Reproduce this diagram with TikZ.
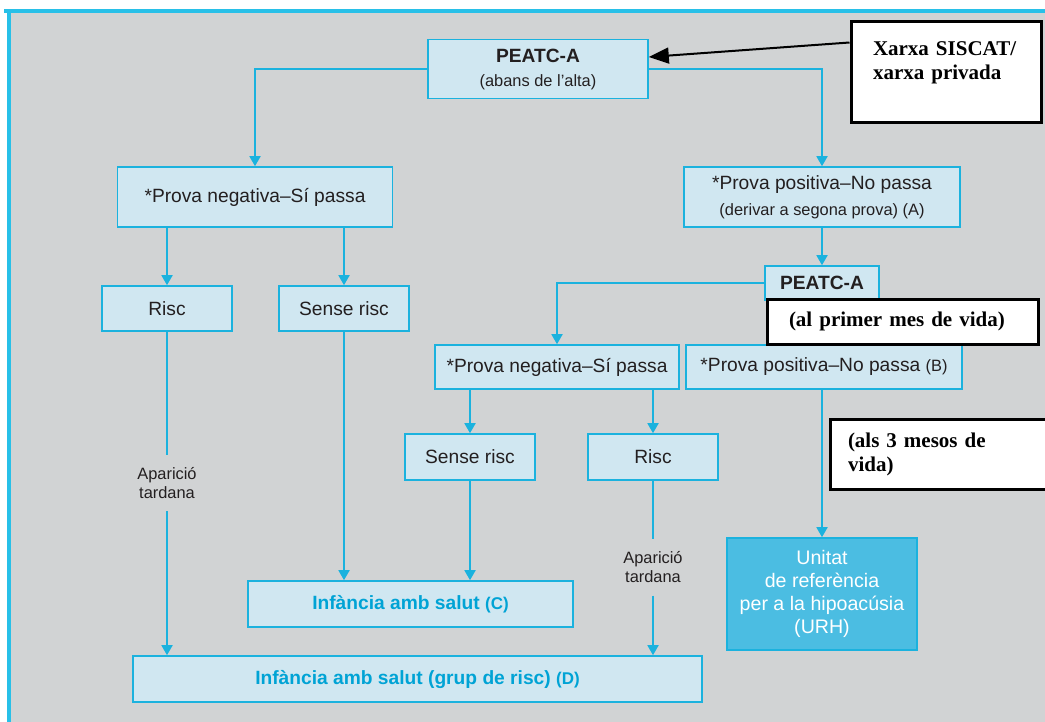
\documentclass[tikz,border=0pt]{standalone}
\usepackage{fontspec}
\setmainfont{Liberation Serif}
\setsansfont{Liberation Sans}
\usetikzlibrary{arrows.meta, positioning}
\definecolor{bggray}{RGB}{209,211,212}
\definecolor{framecyan}{RGB}{40,192,232}
\definecolor{lineblue}{RGB}{27,178,222}
\definecolor{boxfill}{RGB}{208,231,241}
\definecolor{urhfill}{RGB}{75,189,226}
\definecolor{txtgray}{RGB}{35,31,32}
\definecolor{kidblue}{RGB}{0,163,213}
\newcommand\bxfont{\sffamily\fontsize{9.6pt}{11pt}\selectfont}
\newcommand\smfont{\sffamily\fontsize{8.2pt}{9.5pt}\selectfont}
\newcommand\notefont{\rmfamily\bfseries\fontsize{10.5pt}{12pt}\selectfont}
\tikzset {
    >={Triangle[length=5pt, width=5.5pt]},
    flowbox/.style={draw=lineblue, line width=0.8pt, fill=boxfill, text=txtgray, font=\bxfont, align=center, inner sep=0pt},
    kidbox/.style={flowbox, text=kidblue, font=\bxfont\bfseries},
    urhbox/.style={flowbox, fill=urhfill, text=white, font=\sffamily\fontsize{9.8pt}{11.5pt}\selectfont},
    notebox/.style={draw=black, line width=1.5pt, fill=white, font=\notefont, align=left, inner ysep=0pt},
    flowline/.style={->, draw=lineblue, line width=0.9pt},
    latetext/.style={font=\smfont, text=txtgray, align=center, inner xsep=0pt, inner ysep=6pt}
}

\begin{document}
\begin{tikzpicture}[x=0.5pt, y=-0.5pt]
    \useasboundingbox (0,0) rectangle (1045,722);
    \fill[white] (0,0) rectangle (1045,722);
    \fill[bggray] (11,13) rectangle (1045,722);
    \fill[framecyan] (4,9) rectangle (1045,13);
    \fill[framecyan] (7,9) rectangle (11,722);

    % first test
    \node[flowbox, minimum width=110pt, minimum height=29.5pt] (peatc) at (538,69)
        {\textbf{PEATC-A}\\[1pt]{\smfont (abans de l’alta)}};
    \node[flowbox, minimum width=137.5pt, minimum height=30pt] (neg1) at (255,197)
        {*Prova negativa–Sí passa};
    \node[flowbox, minimum width=138pt, minimum height=30pt] (pos1) at (822,197)
        {*Prova positiva–No passa\\[2pt]{\smfont (derivar a segona prova) (A)}};
    \node[flowbox, minimum width=65pt, minimum height=22.5pt] (riscA) at (167,308.5) {Risc};
    \node[flowbox, minimum width=65pt, minimum height=22.5pt] (senseA) at (344,308.5) {Sense risc};

    % second test
    \node[flowbox, minimum width=57pt, minimum height=17pt] (peatc2) at (822,283) {\textbf{PEATC-A}};
    \node[flowbox, minimum width=122pt, minimum height=22pt] (neg2) at (557,367)
        {*Prova negativa–Sí passa};
    \node[flowbox, minimum width=138pt, minimum height=22pt] (pos2) at (824,367)
        {*Prova positiva–No passa {\smfont (B)}};
    \node[flowbox, minimum width=65pt, minimum height=23pt] (sense2) at (470,457) {Sense risc};
    \node[flowbox, minimum width=65pt, minimum height=23pt] (risc2) at (653,457) {Risc};

    % results
    \node[kidbox, minimum width=162.5pt, minimum height=23pt] (cbox) at (410.5,604)
        {Infància amb salut {\fontsize{8.5pt}{10pt}\selectfont (C)}};
    \node[kidbox, minimum width=284.5pt, minimum height=23pt] (dbox) at (417.5,679)
        {Infància amb salut (grup de risc) {\fontsize{8.5pt}{10pt}\selectfont (D)}};
    \node[urhbox, minimum width=95pt, minimum height=56pt] (urh) at (822,594)
        {Unitat\\de referència\\per a la hipoacúsia\\(URH)};

    \node[latetext] (late1) at (167,483) {Aparició\\tardana};
    \node[latetext] (late2) at (653,567.5) {Aparició\\tardana};

    \draw[flowline] (peatc.west) -| (neg1.north);
    \draw[flowline] (peatc.east) -| (pos1.north);
    \draw[flowline] (neg1.south -| riscA) -- (riscA.north);
    \draw[flowline] (neg1.south -| senseA) -- (senseA.north);
    \draw[flowline] (pos1) -- (peatc2);
    \draw[flowline] (peatc2.west) -| (neg2.north);
    \draw[flowline] (neg2.south -| sense2) -- (sense2.north);
    \draw[flowline] (neg2.south -| risc2) -- (risc2.north);
    \draw[flowline] (pos2.south -| urh) -- (urh.north);
    \draw[flowline] (senseA) -- (senseA |- cbox.north);
    \draw[flowline] (sense2) -- (sense2 |- cbox.north);
    \draw[lineblue, line width=0.9pt] (riscA) -- (late1);
    \draw[flowline] (late1) -- (late1 |- dbox.north);
    \draw[lineblue, line width=0.9pt] (risc2) -- (late2);
    \draw[flowline] (late2) -- (late2 |- dbox.north);

    % added notes
    \node[notebox, minimum height=50.5pt, text width=73pt, inner xsep=11pt] (xarxa) at (946,72.5)
        {Xarxa SISCAT/\\xarxa privada\\\mbox{}};
    \node[notebox, minimum height=22.5pt, text width=113.5pt, inner xsep=11pt] (month1) at (902.5,321.5)
        {(al primer mes de vida)};
    \node[notebox, minimum height=35pt, text width=102pt, inner xsep=9pt] (month3) at (950,454)
        {(als 3 mesos de\\vida)};
    \draw[-{Triangle[length=10pt, width=8pt]}, line width=1pt]
        ([yshift=-11pt]xarxa.north west) -- ([yshift=6pt]peatc.east);
\end{tikzpicture}
\end{document}
